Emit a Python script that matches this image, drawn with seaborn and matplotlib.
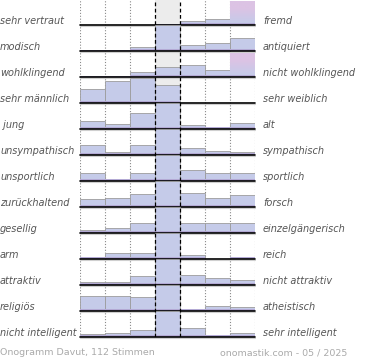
import numpy as np
import pandas as pd
import matplotlib
matplotlib.use("Agg")
import matplotlib.pyplot as plt
import seaborn as sns
from matplotlib.colors import LinearSegmentedColormap

# ---- data (bar heights; row full height = 26) ----
scale = ["1", "2", "3", "4", "5", "6", "7"]

left_labels = ["sehr vertraut", "modisch", "wohlklingend", "sehr männlich", " jung",
               "unsympathisch", "unsportlich", "zurückhaltend", "gesellig", "arm",
               "attraktiv", "religiös", "nicht intelligent"]
right_labels = ["fremd", "antiquiert", "nicht wohlklingend", "sehr weiblich", "alt",
                "sympathisch", "sportlich", "forsch", "einzelgängerisch", "reich",
                "nicht attraktiv", "atheistisch", "sehr intelligent"]

v_vertraut = [0, 0, 0, 1.5, 4, 6, 24]
v_modisch = [1.5, 1.5, 4.5, 26, 6, 8, 13]
v_wohlklingend = [1, 1, 5, 10, 12.5, 7.5, 24]
v_maennlich = [13.7, 22, 25.3, 17.7, 0, 0, 0]
v_jung = [8, 5.5, 16, 26, 4, 2.5, 6.5]
v_unsympathisch = [10.5, 3, 10.5, 26, 7.3, 4.3, 2.7]
v_unsportlich = [8, 1.7, 8, 26, 11.3, 8, 8]
v_zurueckhaltend = [7.7, 8.7, 12.7, 26, 13.7, 9.3, 12.3]
v_gesellig = [3, 5, 9.7, 26, 9.7, 9.7, 9.7]
v_arm = [2, 5.7, 5.7, 26, 4, 0, 2.3]
v_attraktiv = [3.3, 3.3, 8.7, 26, 9.7, 7.3, 5.3]
v_religioes = [15.3, 15.3, 14, 26, 1.7, 5, 3.7]
v_intelligent = [3, 4.3, 7.3, 26, 9.3, 2, 4]

rows = [v_vertraut, v_modisch, v_wohlklingend, v_maennlich, v_jung, v_unsympathisch,
        v_unsportlich, v_zurueckhaltend, v_gesellig, v_arm, v_attraktiv, v_religioes,
        v_intelligent]

tinted = [(0, 6), (2, 6)]  # bars drawn with pink top gradient

footer_left = "Onogramm Davut, 112 Stimmen"
footer_right = "onomastik.com - 05 / 2025"

# ---- style ----
W, H = 370, 360
x0, x1 = 80, 255
row_h = 26
first_base = 25
blue = "#c5cbe9"
purple = "#b3a9d4"
pink = "#dcc3e4"
label_col = "#555555"

sns.set_style("white")
plt.rcParams["font.family"] = ["DejaVu Sans"]

fig = plt.figure(figsize=(W / 100, H / 100), dpi=100)


def fy(px):
    return 1 - px / H


last_base = first_base + row_h * (len(rows) - 1)

# background: middle column + dotted grid
bg = fig.add_axes([x0 / W, fy(last_base), (x1 - x0) / W, last_base / H], zorder=0)
bg.set_xlim(-0.5, 6.5)
bg.set_ylim(0, 1)
bg.axvspan(2.5, 3.5, color="#ececec", lw=0)
for xv in [-0.5, 0.5, 1.5, 4.5, 5.5, 6.5]:
    bg.axvline(xv, color="#8a8a8a", ls=(0, (1, 1.6)), lw=0.8)
bg.axis("off")

grad_cmap = LinearSegmentedColormap.from_list("g", [blue, "#d0c7e7", pink, pink])

for i, vals in enumerate(rows):
    base = first_base + row_h * i
    ax = fig.add_axes([x0 / W, fy(base), (x1 - x0) / W, row_h / H], zorder=2)
    ax.patch.set_alpha(0)
    df = pd.DataFrame({"pos": scale, "val": vals})
    sns.barplot(data=df, x="pos", y="val", order=scale, width=1, color=blue,
                saturation=1, edgecolor="#9c9c9c", linewidth=0.6, errorbar=None, ax=ax)
    # purple strip at bottom of each bar
    df["strip"] = np.minimum(df["val"], 2.2)
    sns.barplot(data=df, x="pos", y="strip", order=scale, width=1, color=purple,
                saturation=1, linewidth=0, errorbar=None, ax=ax)
    patches = ax.patches[:len(scale)]
    for (ri, ci) in tinted:
        if ri == i:
            p = patches[ci]
            h = p.get_height()
            grad = np.linspace(0, 1, 64).reshape(-1, 1)
            im = ax.imshow(grad, cmap=grad_cmap, origin="lower", aspect="auto",
                           extent=[p.get_x(), p.get_x() + p.get_width(), 2.2, h - 0.3],
                           zorder=p.get_zorder() + 0.1)
            im.set_clip_path(p)
    ax.set_xlim(-0.5, 6.5)
    ax.set_ylim(0, row_h)
    ax.axhline(-0.9, color="#cfcfcf", lw=0.8, clip_on=False, zorder=4)
    ax.axhline(0, color="black", lw=1.2, clip_on=False, zorder=5)
    ax.axis("off")

    fig.text(0.0, fy(base - 1.5), left_labels[i], fontsize=7, style="italic",
             color=label_col, ha="left", va="baseline")
    fig.text(263 / W, fy(base - 1.5), right_labels[i], fontsize=7, style="italic",
             color=label_col, ha="left", va="baseline")

# overlay: dashed borders of the middle column
ov = fig.add_axes([x0 / W, fy(last_base), (x1 - x0) / W, last_base / H], zorder=3)
ov.patch.set_alpha(0)
ov.set_xlim(-0.5, 6.5)
ov.set_ylim(0, 1)
for xv in [2.5, 3.5]:
    ov.axvline(xv, color="black", ls=(0, (3, 2)), lw=0.9)
ov.axis("off")

fig.text(0.0, fy(352.5), footer_left, fontsize=6.8, color="#aaaaaa",
         ha="left", va="center")
fig.text(347 / W, fy(352.5), footer_right, fontsize=6.8, color="#aaaaaa",
         ha="right", va="center")

fig.savefig("out.png", dpi=100)
